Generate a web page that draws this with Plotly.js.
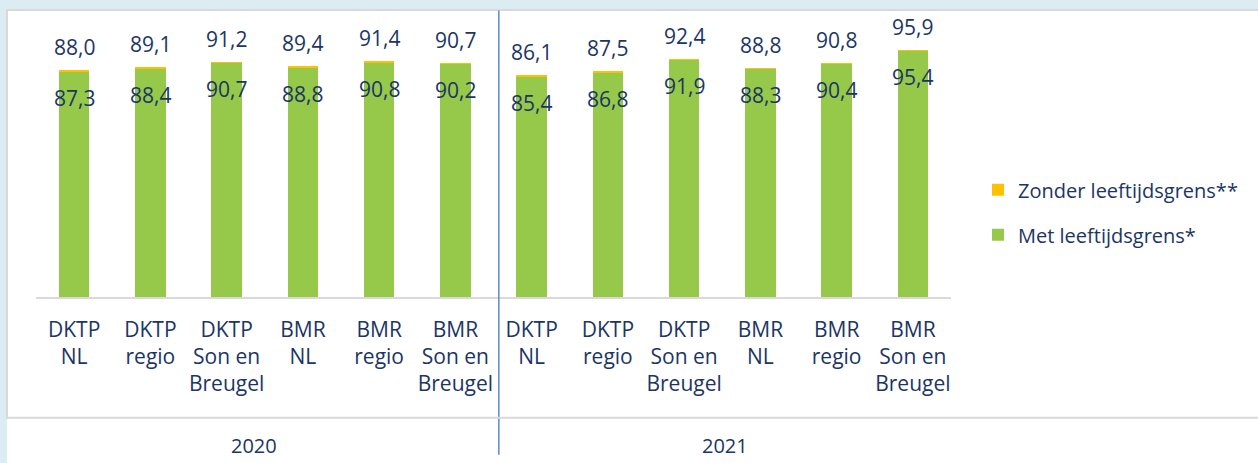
<!DOCTYPE html>
<html>
<head>
<meta charset="utf-8">
<script src="https://cdn.plot.ly/plotly-3.0.1.min.js"></script>
<style>
  html, body { margin:0; padding:0; width:1258px; height:463px; overflow:hidden; background:#dbedf3; }
  #box { position:absolute; left:7px; top:9px; right:0; bottom:0; background:#ffffff; border-top:2px solid #d9d9d9; }
  #lborder { position:absolute; left:6px; top:9px; width:2px; height:410px; background:#d9d9d9; }
  #chart { position:absolute; left:0; top:0; width:1258px; height:463px; }
</style>
</head>
<body>
<div id="box"></div>
<div id="lborder"></div>
<div id="chart"></div>
<script>
// ---- data ----
const years = ['2020', '2021'];
const categories = [
  'DKTP<br>NL', 'DKTP<br>regio', 'DKTP<br>Son en<br>Breugel',
  'BMR<br>NL', 'BMR<br>regio', 'BMR<br>Son en<br>Breugel',
  'DKTP<br>NL', 'DKTP<br>regio', 'DKTP<br>Son en<br>Breugel',
  'BMR<br>NL', 'BMR<br>regio', 'BMR<br>Son en<br>Breugel'
];
const metLeeftijdsgrens = [87.3, 88.4, 90.7, 88.8, 90.8, 90.2, 85.4, 86.8, 91.9, 88.3, 90.4, 95.4];
const zonderLeeftijdsgrens = [88.0, 89.1, 91.2, 89.4, 91.4, 90.7, 86.1, 87.5, 92.4, 88.8, 90.8, 95.9];
// ----------------

const navy = '#1b3566';
const FONT = '"Open Sans", Lato, sans-serif';
const FS = 21;
const idx = categories.map((c, i) => i);
const extra = zonderLeeftijdsgrens.map((t, i) => +(t - metLeeftijdsgrens[i]).toFixed(1));
const fmt = v => v.toFixed(1).replace('.', ',');

const traces = [
  {
    type: 'bar', name: 'Met leeftijdsgrens*', x: idx, y: metLeeftijdsgrens,
    marker: { color: '#96c84a' }, legendgroup: 'met', legendrank: 2, hoverinfo: 'skip'
  },
  {
    type: 'bar', name: 'Zonder leeftijdsgrens**', x: idx, y: extra,
    marker: { color: '#ffc000' }, legendgroup: 'zonder', legendrank: 1, hoverinfo: 'skip'
  }
];

const annotations = [];
idx.forEach(i => {
  annotations.push({ x: i, y: zonderLeeftijdsgrens[i], xref: 'x', yref: 'y', text: fmt(zonderLeeftijdsgrens[i]),
    showarrow: false, xanchor: 'center', yanchor: 'middle', yshift: 23,
    font: { family: FONT, size: FS, color: navy } });
  annotations.push({ x: i, y: metLeeftijdsgrens[i], xref: 'x', yref: 'y', text: fmt(metLeeftijdsgrens[i]),
    showarrow: false, xanchor: 'center', yanchor: 'middle', yshift: -26,
    font: { family: FONT, size: FS, color: navy } });
});
annotations.push({ x: (254 - 36) / 915, y: (297 - 446) / 258.5, xref: 'paper', yref: 'paper', text: years[0],
  showarrow: false, xanchor: 'center', yanchor: 'middle', font: { family: FONT, size: 20, color: navy } });
annotations.push({ x: (725 - 36) / 915, y: (297 - 446) / 258.5, xref: 'paper', yref: 'paper', text: years[1],
  showarrow: false, xanchor: 'center', yanchor: 'middle', font: { family: FONT, size: 20, color: navy } });

const layout = {
  width: 1258, height: 463,
  margin: { l: 36, r: 307, t: 38.5, b: 166, pad: 0 },
  paper_bgcolor: 'rgba(0,0,0,0)', plot_bgcolor: 'rgba(0,0,0,0)',
  barmode: 'stack', bargap: 0.6,
  font: { family: FONT, size: FS, color: navy },
  xaxis: {
    tickmode: 'array', tickvals: idx, ticktext: categories,
    range: [-0.5, 11.5], showgrid: false, zeroline: false,
    showline: true, linecolor: '#d9d9d9', linewidth: 1.5,
    ticks: '', ticklabelstandoff: 13,
    tickfont: { family: FONT, size: FS, color: navy }, fixedrange: true
  },
  yaxis: {
    range: [0, 100], visible: false, showgrid: false, zeroline: false, fixedrange: true
  },
  showlegend: true,
  legend: {
    x: (978 - 36) / 915, xanchor: 'left', y: (297 - 170) / 258.5, yanchor: 'top',
    traceorder: 'grouped', tracegroupgap: 16,
    font: { family: FONT, size: 20, color: navy }, bgcolor: 'rgba(0,0,0,0)'
  },
  shapes: [
    { type: 'line', xref: 'x', yref: 'paper', x0: 5.57, x1: 5.57, y0: (297 - 10) / 258.5, y1: (297 - 455) / 258.5,
      line: { color: '#5b8bc9', width: 1.5 } },
    { type: 'line', xref: 'paper', yref: 'paper', x0: (7 - 36) / 915, x1: (1258 - 36) / 915,
      y0: (297 - 418) / 258.5, y1: (297 - 418) / 258.5, line: { color: '#d9d9d9', width: 2 } }
  ],
  annotations: annotations
};

Plotly.newPlot('chart', traces, layout, { displayModeBar: false, staticPlot: true });
</script>
</body>
</html>
